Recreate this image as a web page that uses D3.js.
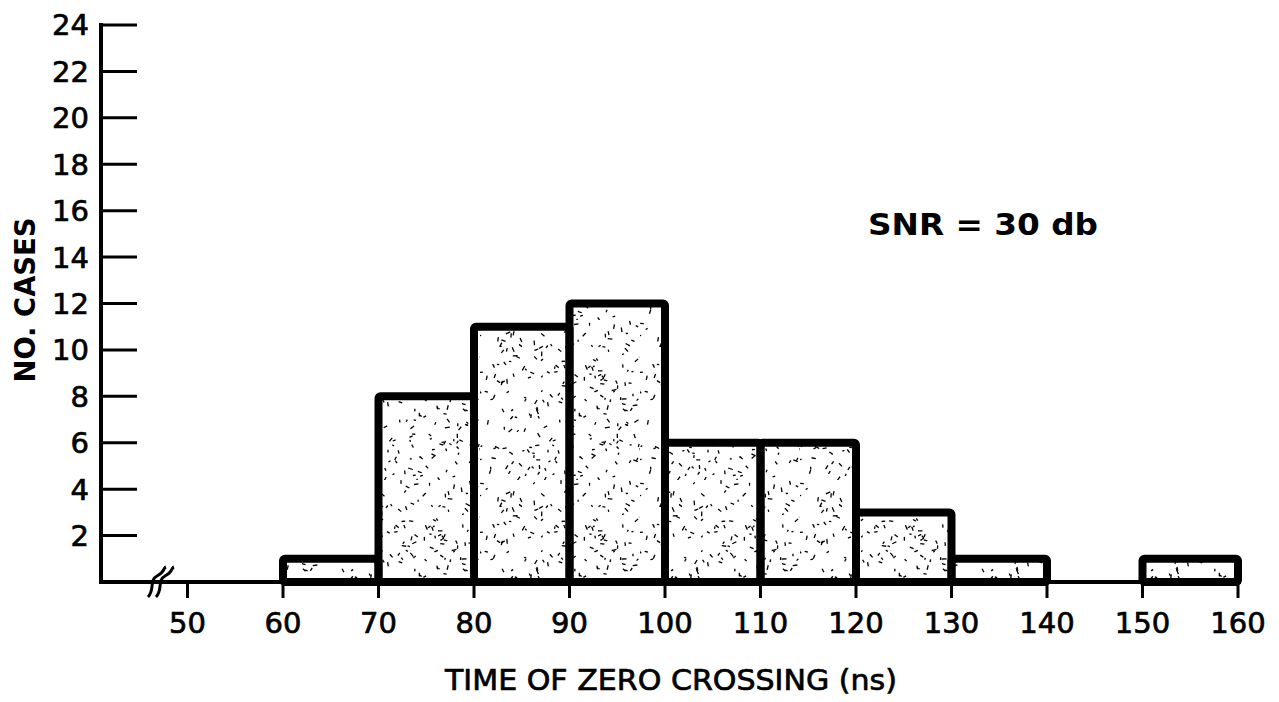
<!DOCTYPE html>
<html><head><meta charset="utf-8">
<script src="https://cdn.jsdelivr.net/npm/d3@7"></script>
<style>html,body{margin:0;padding:0;background:#fff;}svg{display:block;}</style>
</head><body>
<svg id="c" width="1279" height="702"></svg>
<script>
// ---- data ----
const binStarts = [60, 70, 80, 90, 100, 110, 120, 130, 140, 150];
const binWidth = 10;
const counts = [1, 8, 11, 12, 6, 6, 3, 1, 0, 1];
const xTicks = [50, 60, 70, 80, 90, 100, 110, 120, 130, 140, 150, 160];
const yTicks = [2, 4, 6, 8, 10, 12, 14, 16, 18, 20, 22, 24];
const xTitle = "TIME OF ZERO CROSSING (ns)";
const yTitle = "NO. CASES";
const note = "SNR = 30 db";

const svg = d3.select("#c");
const font = "'DejaVu Sans', 'Liberation Sans', sans-serif";
const x = d3.scaleLinear().domain([50, 160]).range([187.5, 1238]);
const y = d3.scaleLinear().domain([0, 24]).range([582, 25]);

// stipple texture (decorative)
const defs = svg.append("defs");
const pat = defs.append("pattern").attr("id", "stip").attr("patternUnits", "userSpaceOnUse")
  .attr("width", 160).attr("height", 160);
let seed = 11;
const rnd = () => { seed = (seed * 16807) % 2147483647; return seed / 2147483647; };
for (let i = 0; i < 260; i++) {
  const px = rnd() * 160, py = rnd() * 160, a = rnd() * Math.PI, l = 2 + rnd() * 3;
  pat.append("line").attr("x1", px).attr("y1", py)
    .attr("x2", px + Math.cos(a) * l).attr("y2", py + Math.sin(a) * l)
    .attr("stroke", "#000").attr("stroke-width", 1.3);
}

// bars
const bins = binStarts.map((s, i) => ({ x0: s, x1: s + binWidth, n: counts[i] })).filter(d => d.n > 0);
svg.append("g").selectAll("rect").data(bins).join("rect")
  .attr("x", d => x(d.x0)).attr("y", d => y(d.n))
  .attr("width", d => x(d.x1) - x(d.x0)).attr("height", d => y(0) - y(d.n))
  .attr("fill", "url(#stip)").attr("stroke", "#000").attr("stroke-width", 8)
  .attr("stroke-linejoin", "round").attr("rx", 2);

// y axis
const ya = svg.append("g");
ya.append("line").attr("x1", 101).attr("x2", 101).attr("y1", y(24) - 2).attr("y2", y(0) + 1)
  .attr("stroke", "#000").attr("stroke-width", 4);
ya.selectAll("line.t").data(yTicks).join("line").attr("class", "t")
  .attr("x1", 101).attr("x2", 137).attr("y1", d => y(d)).attr("y2", d => y(d))
  .attr("stroke", "#000").attr("stroke-width", 3);
ya.selectAll("text").data(yTicks).join("text")
  .attr("x", 89).attr("y", d => y(d)).attr("dy", "0.36em").attr("text-anchor", "end")
  .attr("font-family", font).attr("font-size", 29)
  .attr("stroke", "#000").attr("stroke-width", 0.7).text(d => d);

// x axis
const xa = svg.append("g");
xa.append("line").attr("x1", 99).attr("x2", 1241).attr("y1", y(0)).attr("y2", y(0))
  .attr("stroke", "#000").attr("stroke-width", 4);
xa.selectAll("line.t").data(xTicks).join("line").attr("class", "t")
  .attr("x1", d => x(d)).attr("x2", d => x(d)).attr("y1", y(0)).attr("y2", y(0) + 16)
  .attr("stroke", "#000").attr("stroke-width", 3);
xa.selectAll("text").data(xTicks).join("text")
  .attr("x", d => x(d)).attr("y", 633).attr("text-anchor", "middle")
  .attr("font-family", font).attr("font-size", 29)
  .attr("stroke", "#000").attr("stroke-width", 0.7).text(d => d);

// axis break
const bx = 161, by = y(0);
[-4, 4].forEach(o => {
  svg.append("path")
    .attr("d", `M${bx + o - 9},${by + 15} C${bx + o - 2},${by + 8} ${bx + o - 8},${by - 2} ${bx + o},${by - 6} S${bx + o + 6},${by - 14} ${bx + o + 9},${by - 15}`)
    .attr("fill", "none").attr("stroke", "#000").attr("stroke-width", 3);
});

// titles
svg.append("text").attr("x", 671).attr("y", 690).attr("text-anchor", "middle")
  .attr("font-family", font).attr("font-size", 29).attr("textLength", 452).attr("lengthAdjust", "spacingAndGlyphs")
  .attr("stroke", "#000").attr("stroke-width", 0.7).text(xTitle);
svg.append("text").attr("transform", "translate(35,300) rotate(-90)").attr("text-anchor", "middle")
  .attr("font-family", font).attr("font-size", 28).attr("font-weight", "bold")
  .attr("textLength", 165).attr("lengthAdjust", "spacingAndGlyphs").text(yTitle);
svg.append("text").attr("x", 868).attr("y", 235)
  .attr("font-family", font).attr("font-size", 31).attr("font-weight", "bold")
  .attr("textLength", 230).attr("lengthAdjust", "spacingAndGlyphs").text(note);
</script>
</body></html>
